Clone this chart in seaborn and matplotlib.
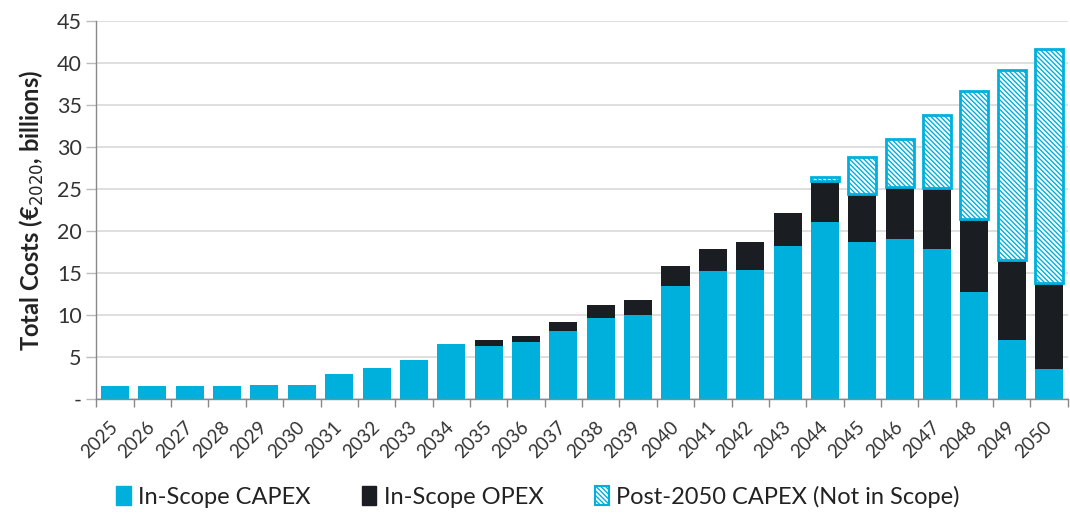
import numpy as np
import pandas as pd
import matplotlib
matplotlib.use("Agg")
import matplotlib.pyplot as plt
import matplotlib.patches as mpatches
import seaborn as sns

# data (EUR 2020 billions)
years = [str(y) for y in range(2025, 2051)]
capex = [1.55, 1.55, 1.55, 1.55, 1.7, 1.7, 2.95, 3.7, 4.6, 6.6,
         6.3, 6.8, 8.1, 9.7, 10.0, 13.5, 15.2, 15.3, 18.2, 21.1,
         18.7, 19.1, 17.8, 12.7, 7.05, 3.6]
opex = [0, 0, 0, 0, 0, 0, 0, 0, 0, 0,
        0.75, 0.75, 1.1, 1.5, 1.8, 2.3, 2.7, 3.35, 3.95, 4.9,
        5.65, 6.15, 7.35, 8.7, 9.5, 10.2]
post2050 = [0, 0, 0, 0, 0, 0, 0, 0, 0, 0,
            0, 0, 0, 0, 0, 0, 0, 0, 0, 0.4,
            4.4, 5.7, 8.6, 15.3, 22.6, 27.8]

df = pd.DataFrame({"year": years, "capex": capex, "opex": opex, "post": post2050})
df["capex_opex"] = df["capex"] + df["opex"]

cyan = "#00B0DC"
dark = "#1A1D22"
hatch = "\\" * 7

sns.set_theme(style="white")
plt.rcParams["font.family"] = ["Lato", "DejaVu Sans"]
plt.rcParams["hatch.linewidth"] = 1.0

fig, ax = plt.subplots(figsize=(10.7, 5.19), dpi=100)
fig.subplots_adjust(left=0.09, right=0.998, top=0.96, bottom=0.231)

w = 0.75
sns.barplot(data=df, x="year", y="capex", order=years, color=cyan,
            saturation=1, width=w, linewidth=0, ax=ax)
sns.barplot(data=df, x="year", y="opex", order=years, color=dark,
            saturation=1, width=w, linewidth=0, bottom=df["capex"].values, ax=ax)

post_df = df[df["post"] > 0]
sns.barplot(data=post_df, x="year", y="post", order=years, color="white",
            saturation=1, width=w, edgecolor=cyan, linewidth=2, hatch=hatch,
            bottom=post_df["capex_opex"].values, ax=ax)
for p in ax.patches[-len(post_df):]:
    p.set_facecolor("white")
    p.set_edgecolor(cyan)

ax.set_ylim(0, 45)
ax.set_xlim(-0.5, len(years) - 0.5)
ax.set_yticks(np.arange(0, 46, 5))
ax.set_yticklabels(["-"] + [str(v) for v in range(5, 46, 5)], fontsize=15.5, color="#333333")
ax.yaxis.grid(True, color="#D9D9D9", linewidth=1.2)
ax.set_axisbelow(True)

ax.set_xticks(range(len(years)))
ax.set_xticklabels(years, rotation=45, fontsize=13.5, color="#333333",
                   ha="right", va="center", rotation_mode="anchor")
ax.set_xticks(np.arange(-0.5, len(years), 1), minor=True)
ax.tick_params(axis="x", which="major", length=0, pad=18)
ax.tick_params(axis="x", which="minor", length=6, color="#888888", width=1, direction="out", bottom=True)
ax.tick_params(axis="y", length=7, color="#BBBBBB", width=1, left=True, direction="out")

for s in ["top", "right"]:
    ax.spines[s].set_visible(False)
for s in ["left", "bottom"]:
    ax.spines[s].set_color("#888888")
    ax.spines[s].set_linewidth(1)

ax.set_xlabel("")
ax.set_ylabel("Total Costs (€$_{2020}$, billions)", fontsize=17, fontweight="bold",
              color="#222222", labelpad=8)

handles = [
    mpatches.Patch(facecolor=cyan, edgecolor=cyan, label="In-Scope CAPEX"),
    mpatches.Patch(facecolor=dark, edgecolor=dark, label="In-Scope OPEX"),
    mpatches.Patch(facecolor="white", edgecolor=cyan, hatch=hatch, linewidth=1.5,
                   label="Post-2050 CAPEX (Not in Scope)"),
]
fig.legend(handles=handles, loc="center", bbox_to_anchor=(0.503, 0.043), ncol=3,
           frameon=False, fontsize=17, handlelength=0.6, handleheight=0.8,
           handletextpad=0.3, columnspacing=2.2, labelcolor="#222222")

fig.savefig("out.png", dpi=100)
